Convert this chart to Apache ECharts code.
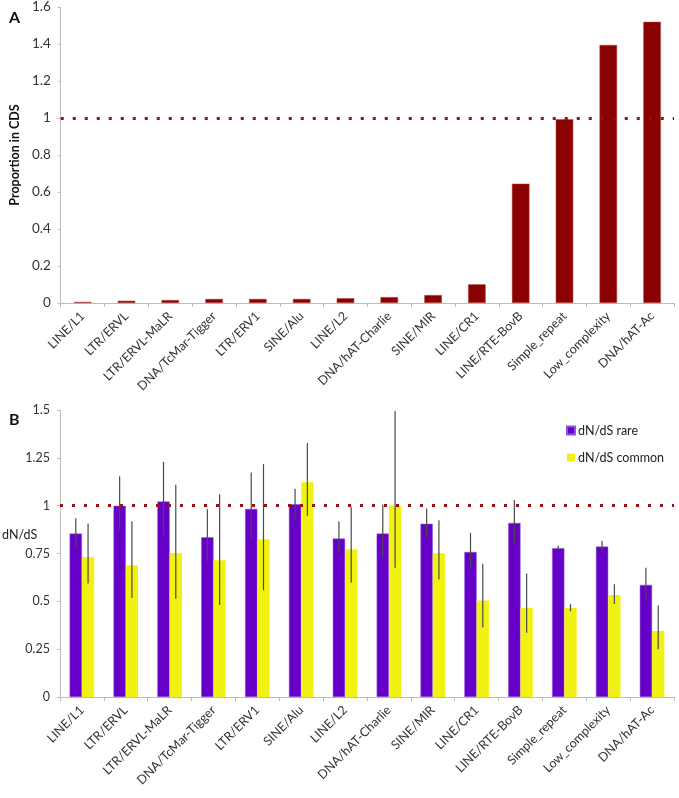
<!DOCTYPE html>
<html>
<head>
<meta charset="utf-8">
<script src="https://cdn.jsdelivr.net/npm/echarts@6/dist/echarts.min.js"></script>
<style>
html,body{margin:0;padding:0;background:#fff;}
#chart{width:679px;height:798px;}
</style>
</head>
<body>
<div id="chart"></div>
<script>
var categories = ['LINE/L1','LTR/ERVL','LTR/ERVL-MaLR','DNA/TcMar-Tigger','LTR/ERV1','SINE/Alu','LINE/L2','DNA/hAT-Charlie','SINE/MIR','LINE/CR1','LINE/RTE-BovB','Simple_repeat','Low_complexity','DNA/hAT-Ac'];
var proportionCDS = [0.006,0.012,0.016,0.022,0.022,0.022,0.026,0.032,0.043,0.101,0.645,0.993,1.395,1.52];
var rareValues   = [0.854,0.999,1.022,0.835,0.983,1.008,0.828,0.854,0.905,0.758,0.910,0.778,0.786,0.586];
var rareLow      = [0.779,0.868,0.846,0.708,0.825,0.929,0.750,0.729,0.832,0.675,0.805,0.767,0.758,0.509];
var rareHigh     = [0.934,1.154,1.229,0.981,1.173,1.088,0.919,1.006,0.985,0.858,1.029,0.791,0.816,0.676];
var commonValues = [0.732,0.687,0.753,0.715,0.825,1.123,0.772,1.001,0.751,0.504,0.465,0.465,0.533,0.345];
var commonLow    = [0.593,0.518,0.513,0.481,0.558,0.947,0.598,0.675,0.614,0.363,0.336,0.448,0.486,0.249];
var commonHigh   = [0.907,0.919,1.109,1.060,1.217,1.328,0.994,1.495,0.924,0.697,0.645,0.486,0.589,0.478];
var yTicksA = {min:0, max:1.6, interval:0.2};
var yTicksB = {min:0, max:1.5, interval:0.25};

var FONT = 'Lato';
var chart = echarts.init(document.getElementById('chart'), null, {renderer:'canvas'});

function errSeries(name, low, high, sign) {
  return {
    type:'custom', name:name, xAxisIndex:1, yAxisIndex:1, silent:true, z:5,
    data: categories.map(function(c,i){ return [i, low[i], high[i]]; }),
    renderItem: function(params, api){
      var lo = api.coord([api.value(0), api.value(1)]);
      var hi = api.coord([api.value(0), api.value(2)]);
      var band = api.size([1,0])[0];
      var x = lo[0] + sign*band*0.14;
      return {type:'line', shape:{x1:x,y1:lo[1],x2:x,y2:hi[1]}, style:{stroke:'#4a4a4a', lineWidth:1.2}};
    }
  };
}

var axisLineStyle = {lineStyle:{color:'#bdbdbd', width:1}};
var markLine1 = {
  silent:true, symbol:['none','none'],
  label:{show:false},
  lineStyle:{type:[3,9], width:3, color:'#9a1010'},
  data:[{yAxis:1}]
};
var xLabel = {rotate:45, fontSize:12.5, color:'#333', margin:11, interval:0, fontFamily:FONT};

chart.setOption({
  animation:false,
  textStyle:{fontFamily:FONT},
  graphic:[
    {type:'text', left:9, top:10, style:{text:'A', font:'bold 16px Lato', fill:'#111'}},
    {type:'text', left:9, top:412, style:{text:'B', font:'bold 16px Lato', fill:'#111'}},
    {type:'text', left:2, top:528, style:{text:'dN/dS', font:'12.5px Lato', fill:'#222'}}
  ],
  legend:{
    data:['dN/dS rare','dN/dS common'], orient:'vertical', left:561, top:419,
    itemWidth:8, itemHeight:8, itemGap:14, icon:'rect',
    textStyle:{fontFamily:FONT, fontSize:12.5, color:'#222', padding:[0,0,0,-2]}
  },
  grid:[
    {left:60, top:7, width:614, height:296},
    {left:60, top:410, width:614, height:287}
  ],
  xAxis:[
    {type:'category', gridIndex:0, data:categories, boundaryGap:true,
     axisLine:axisLineStyle, axisTick:{show:true, length:4, lineStyle:{color:'#bdbdbd'}},
     axisLabel:xLabel},
    {type:'category', gridIndex:1, data:categories, boundaryGap:true,
     axisLine:axisLineStyle, axisTick:{show:true, length:4, lineStyle:{color:'#bdbdbd'}},
     axisLabel:xLabel}
  ],
  yAxis:[
    {type:'value', gridIndex:0, min:yTicksA.min, max:yTicksA.max, interval:yTicksA.interval,
     name:'Proportion in CDS', nameLocation:'middle', nameGap:39, nameRotate:90,
     nameTextStyle:{fontFamily:FONT, fontSize:12.5, fontWeight:'bold', color:'#111'},
     axisLine:{show:true, lineStyle:{color:'#bdbdbd'}}, axisTick:{show:true, length:3, lineStyle:{color:'#bdbdbd'}},
     splitLine:{show:false}, axisLabel:{fontSize:13.5, color:'#333', margin:10, fontFamily:FONT}},
    {type:'value', gridIndex:1, min:yTicksB.min, max:yTicksB.max, interval:yTicksB.interval,
     axisLine:{show:true, lineStyle:{color:'#bdbdbd'}}, axisTick:{show:true, length:3, lineStyle:{color:'#bdbdbd'}},
     splitLine:{show:false}, axisLabel:{fontSize:12.5, color:'#333', margin:10, fontFamily:FONT}}
  ],
  series:[
    {type:'bar', name:'Proportion in CDS', xAxisIndex:0, yAxisIndex:0, data:proportionCDS, barWidth:'40%',
     itemStyle:{color:'#8b0000', borderColor:'#b04a4a', borderWidth:0.5},
     markLine:markLine1},
    {type:'bar', name:'dN/dS rare', xAxisIndex:1, yAxisIndex:1, data:rareValues, barWidth:'28%', barGap:'0%',
     itemStyle:{color:'#6600c8', borderColor:'#8a55d8', borderWidth:0.5},
     markLine:markLine1},
    {type:'bar', name:'dN/dS common', xAxisIndex:1, yAxisIndex:1, data:commonValues, barWidth:'28%', barGap:'0%',
     itemStyle:{color:'#f2f212'}},
    errSeries('errRare', rareLow, rareHigh, -1),
    errSeries('errCommon', commonLow, commonHigh, 1)
  ]
});
</script>
</body>
</html>
